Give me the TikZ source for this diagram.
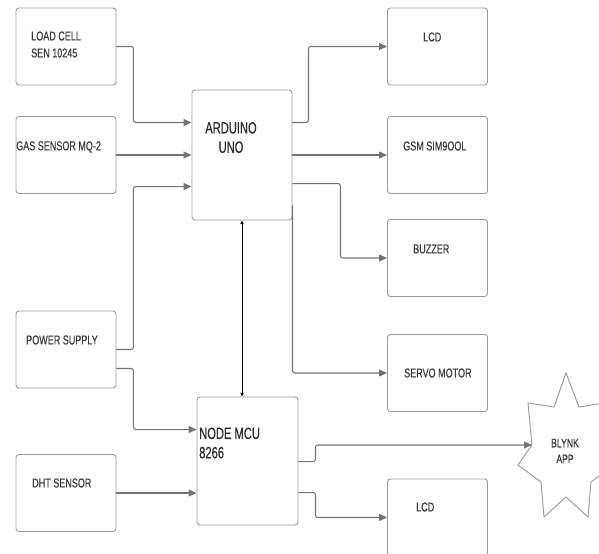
\documentclass[tikz,border=0pt]{standalone}
\usepackage{fontspec}
\usetikzlibrary{arrows.meta,calc}
\newfontfamily\lblfont{Liberation Sans}[FakeStretch=0.70, FakeBold=0.3]
\newfontfamily\bigfont{Liberation Sans}[FakeStretch=0.68, FakeBold=0.3]
\definecolor{boxgray}{HTML}{9C9C9C}
\definecolor{wiregray}{HTML}{747474}
\definecolor{txtgray}{HTML}{3A3A3A}

\begin{document}
\begin{tikzpicture}[x=0.3mm, y=-0.3mm,
  blk/.style={draw=boxgray, line width=0.8pt, rounded corners=2.5pt, minimum width=30mm, minimum height=23.1mm, inner sep=0pt},
  lbl/.style={font=\lblfont\fontsize{11}{14.5}\selectfont, text=txtgray, inner sep=0pt, align=left, anchor=west},
  big/.style={font=\bigfont\fontsize{14}{16.5}\selectfont, text=txtgray!75!black, inner sep=0pt},
  wire/.style={draw=wiregray, line width=0.9pt, rounded corners=2pt, -{Triangle[length=2.4mm,width=2.1mm]}},
  >={Triangle[length=1.1mm,width=1mm]}]
  \useasboundingbox (0,0) rectangle (599,554);
  % inputs
  \node[blk] (load) at (66,46.5) {};
  \node[blk] (gas) at (66,155) {};
  \node[blk] (pwr) at (66,349.5) {};
  \node[blk] (dht) at (66,493) {};
  \node[lbl] (load-t) at (31,44.5) {LOAD CELL\\SEN 10245};
  \node[lbl] (gas-t) at (16,147) {GAS SENSOR MQ-2};
  \node[lbl] (pwr-t) at (26,340) {POWER SUPPLY};
  \node[lbl] (dht-t) at (32,483) {DHT SENSOR};
  % controllers
  \node[blk, minimum height=39mm] (uno) at (242,155) {};
  \node[blk, minimum width=30.3mm, minimum height=38.4mm] (mcu) at (247.5,461) {};
  \node[big, align=center] (uno-t) at (231,137.5) {ARDUINO\\UNO};
  \node[big, align=left, anchor=west] (mcu-t) at (199,443) {NODE MCU\\8266};
  % outputs
  \node[blk] (lcd) at (437.5,46.5) {};
  \node[blk] (gsm) at (437.5,155) {};
  \node[blk] (buz) at (437.5,258) {};
  \node[blk] (servo) at (437.5,373) {};
  \node[blk] (lcdb) at (437.5,517.5) {};
  \node[lbl] (lcd-t) at (423,37) {LCD};
  \node[lbl] (gsm-t) at (403,146) {GSM SIM9OOL};
  \node[lbl] (buz-t) at (413,249) {BUZZER};
  \node[lbl] (servo-t) at (404,373) {SERVO MOTOR};
  \node[lbl] (lcdb-t) at (416,507) {LCD};
  % blynk star
  \draw[boxgray, line width=0.8pt] (566,373) -- (579,407) -- (604,403) -- (600,445) -- (614,465)
    -- (591,482) -- (588,517) -- (566,497) -- (544,517) -- (541,482) -- (518,465) -- (532,445)
    -- (528,403) -- (554,407) -- cycle;
  \coordinate (blynk-in) at (532,445);
  \node[lbl, anchor=center, align=center, font=\lblfont\fontsize{10.5}{13.6}\selectfont] (blynk) at (565,451) {BLYNK\\APP};
  % wiring
  \draw[wire] (load.east) -- ++(17,0) |- ($(uno.north west)+(0,33)$);
  \draw[wire] (gas.east) -- (gas.east -| uno.west);
  \draw[wire] (pwr.east) -- ++(17,0) |- ($(uno.north west)+(0,97)$);
  \draw[wire] ($(pwr.east)+(0,19)$) -- ++(17,0) |- ($(mcu.north west)+(0,33)$);
  \draw[wire] (dht.east) -- (dht.east -| mcu.west);
  \draw[wire] ($(uno.north east)+(0,33)$) -- ++(16,0) |- (lcd.west);
  \draw[wire] (uno.east) -- (gsm.west);
  \draw[wire] ($(uno.north east)+(0,94)$) -- ++(48,0) |- (buz.west);
  \draw[wire] ($(uno.south east)+(0,-15)$) |- (servo.west);
  \draw[<->, line width=0.8pt, black] (uno.south) -- (uno.south |- mcu.north);
  \draw[wire] ($(mcu.north east)+(0,65)$) -- ++(17,0) |- (blynk-in);
  \draw[wire] ($(mcu.north east)+(0,96)$) -- ++(17,0) |- (lcdb.west);
\end{tikzpicture}
\end{document}
